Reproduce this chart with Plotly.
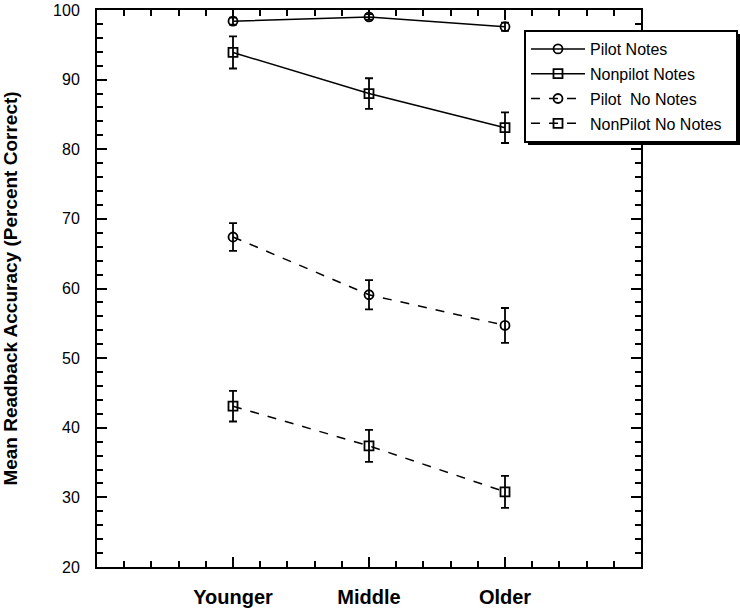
import plotly.graph_objects as go

groups = ["Younger", "Middle", "Older"]
x_pos = [1, 2, 3]

pilot_notes = [98.4, 99.0, 97.6]
pilot_notes_err = [0.5, 0.4, 0.6]
nonpilot_notes = [93.9, 88.0, 83.1]
nonpilot_notes_err = [2.3, 2.2, 2.2]
pilot_no_notes = [67.4, 59.1, 54.7]
pilot_no_notes_err = [2.0, 2.1, 2.5]
nonpilot_no_notes = [43.1, 37.4, 30.8]
nonpilot_no_notes_err = [2.2, 2.3, 2.3]

series = [
    ("Pilot Notes", pilot_notes, pilot_notes_err, "circle-open", "solid"),
    ("Nonpilot Notes", nonpilot_notes, nonpilot_notes_err, "square-open", "solid"),
    ("Pilot  No Notes", pilot_no_notes, pilot_no_notes_err, "circle-open", "dash"),
    ("NonPilot No Notes\u00a0\u00a0", nonpilot_no_notes, nonpilot_no_notes_err, "square-open", "dash"),
]

fig = go.Figure()
for i, (name, vals, errs, sym, dash) in enumerate(series):
    fig.add_trace(go.Scatter(
        x=x_pos, y=vals, name=name, mode="lines+markers", legendgroup=f"g{i}",
        line=dict(color="black", width=1.5, dash=dash),
        marker=dict(symbol=sym, size=9, color="black", line=dict(width=1.8, color="black")),
        error_y=dict(type="data", array=errs, visible=True, color="black", thickness=1.8, width=4),
    ))

# plot area in page pixels
PL, PR, PT, PB = 97, 641, 10, 567
def px(xp):
    return (xp - PL) / (PR - PL)
def py(yp):
    return (PB - yp) / (PB - PT)

# legend drop shadow
fig.add_shape(type="rect", xref="paper", yref="paper",
              x0=px(528), x1=px(742), y0=py(145), y1=py(34),
              fillcolor="black", line=dict(width=0), layer="above")

font_fam = "Liberation Sans, Arial, sans-serif"
fig.update_layout(
    width=740, height=611,
    margin=dict(l=97, r=99, t=10, b=44, autoexpand=False),
    plot_bgcolor="white", paper_bgcolor="white",
    font=dict(family=font_fam, color="black"),
    showlegend=True,
    legend=dict(
        x=px(524), y=py(30), xanchor="left", yanchor="top",
        bgcolor="white", bordercolor="black", borderwidth=2,
        font=dict(family=font_fam, size=16, color="black"),
        tracegroupgap=1, itemwidth=54,
    ),
    xaxis=dict(
        range=[0, 4], tickmode="array", tickvals=x_pos, ticktext=groups,
        showgrid=False, zeroline=False, showline=True, linecolor="black", linewidth=2,
        mirror="ticks", ticks="inside", ticklen=10, tickwidth=1.5, tickcolor="black",
        tickfont=dict(family=font_fam, size=20, color="black", weight="bold"),
        ticklabelstandoff=11,
        minor=dict(tickmode="linear", tick0=0, dtick=0.2, ticks="inside", ticklen=6,
                   tickwidth=1.5, tickcolor="black", showgrid=False),
    ),
    yaxis=dict(
        range=[20, 100], tickmode="linear", tick0=20, dtick=10,
        showgrid=False, zeroline=False, showline=True, linecolor="black", linewidth=2,
        mirror="ticks", ticks="inside", ticklen=10, tickwidth=1.5, tickcolor="black",
        tickfont=dict(family=font_fam, size=16, color="black"),
        ticklabelstandoff=12, ticklabeloverflow="allow",
        title=dict(text="Mean Readback Accuracy (Percent Correct)",
                   font=dict(family=font_fam, size=19, color="black", weight="bold"),
                   standoff=37),
        minor=dict(tickmode="linear", tick0=20, dtick=2, ticks="inside", ticklen=6,
                   tickwidth=1.5, tickcolor="black", showgrid=False),
    ),
)

fig.write_html("out.html", config={"displayModeBar": False},
               post_script="document.body.style.margin='0px';")
